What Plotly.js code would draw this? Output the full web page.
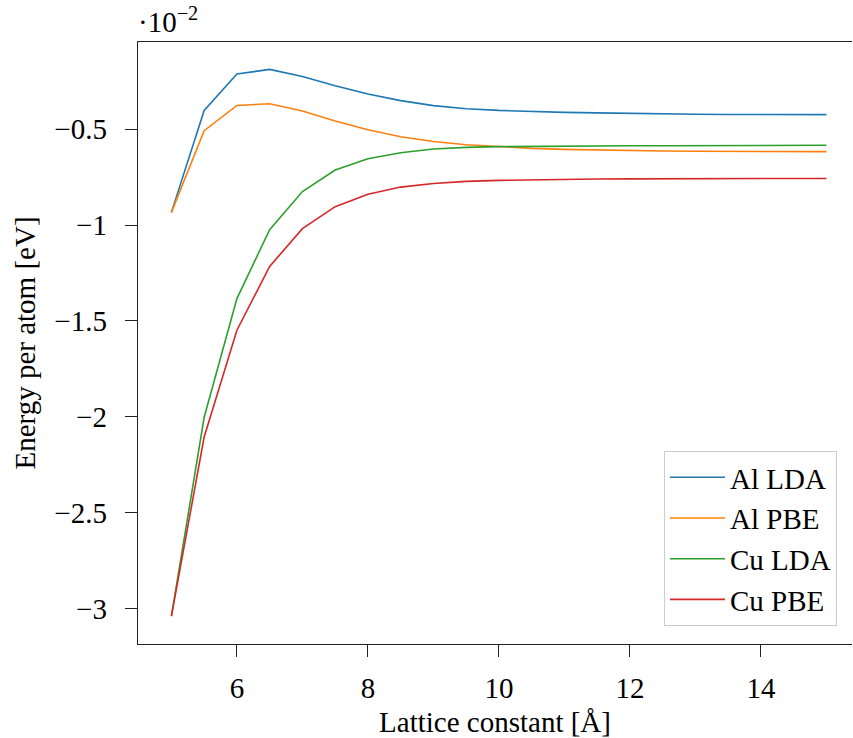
<!DOCTYPE html>
<html>
<head>
<meta charset="utf-8">
<script src="https://cdn.plot.ly/plotly-3.0.1.min.js"></script>
<style>html,body{margin:0;padding:0;background:#fff;overflow:hidden}</style>
</head>
<body>
<div id="chart" style="width:853px;height:738px"></div>
<script>
// Lattice constant [Å]
const latticeConstant = [5, 5.5, 6, 6.5, 7, 7.5, 8, 8.5, 9, 9.5, 10, 10.5, 11, 11.5, 12, 12.5, 13, 13.5, 14, 14.5, 15];
// Energy per atom [eV], in units of 1e-2
const alLDA = [-0.934, -0.402, -0.212, -0.188, -0.225, -0.273, -0.316, -0.351, -0.377, -0.393, -0.402, -0.408, -0.412, -0.415, -0.418, -0.420, -0.422, -0.423, -0.423, -0.424, -0.424];
const alPBE = [-0.934, -0.508, -0.376, -0.367, -0.405, -0.457, -0.503, -0.539, -0.564, -0.581, -0.590, -0.600, -0.605, -0.609, -0.612, -0.614, -0.615, -0.616, -0.616, -0.617, -0.617];
const cuLDA = [-3.041, -2.003, -1.384, -1.024, -0.825, -0.713, -0.654, -0.623, -0.603, -0.595, -0.591, -0.589, -0.588, -0.587, -0.586, -0.586, -0.585, -0.585, -0.585, -0.584, -0.584];
const cuPBE = [-3.041, -2.106, -1.549, -1.216, -1.019, -0.904, -0.839, -0.802, -0.783, -0.772, -0.767, -0.764, -0.762, -0.760, -0.759, -0.758, -0.758, -0.757, -0.757, -0.757, -0.757];
const seriesNames = ['Al LDA', 'Al PBE', 'Cu LDA', 'Cu PBE'];
const seriesColors = ['#1f77b4', '#ff7f0e', '#2ca02c', '#d62728'];
const xTickVals = [6, 8, 10, 12, 14];
const xTickText = ['6', '8', '10', '12', '14'];
const yTickVals = [-0.5, -1, -1.5, -2, -2.5, -3];
const yTickText = ['\u22120.5', '\u22121', '\u22121.5', '\u22122', '\u22122.5', '\u22123'];

const FONT = 'Liberation Serif, Times New Roman, serif';
const seriesData = [alLDA, alPBE, cuLDA, cuPBE];
const traces = seriesData.map((ys, i) => ({
  x: latticeConstant, y: ys, type: 'scatter', mode: 'lines',
  name: seriesNames[i], line: {color: seriesColors[i], width: 1.6}
}));

const layout = {
  width: 853, height: 738,
  margin: {l: 138, r: 1, t: 42, b: 94, pad: 0},
  paper_bgcolor: '#fff', plot_bgcolor: '#fff',
  font: {family: FONT, size: 29, color: '#000'},
  showlegend: true,
  legend: {
    x: 0.979, xanchor: 'right', y: 0.03, yanchor: 'bottom',
    bgcolor: '#fff', bordercolor: '#cccccc', borderwidth: 1,
    font: {family: FONT, size: 29, color: '#000'},
    tracegroupgap: 0, itemwidth: 55
  },
  xaxis: {
    range: [4.49, 15.39], tickmode: 'array', tickvals: xTickVals, ticktext: xTickText,
    showgrid: false, zeroline: false, showline: true, linecolor: '#222', linewidth: 1.3,
    mirror: true, ticks: 'outside', ticklen: 12, tickwidth: 1, tickcolor: '#222',
    ticklabelstandoff: 6,
    title: {text: 'Lattice constant [Å]', font: {family: FONT, size: 29}, standoff: 10}
  },
  yaxis: {
    range: [-3.186, -0.045], tickmode: 'array', tickvals: yTickVals, ticktext: yTickText,
    showgrid: false, zeroline: false, showline: true, linecolor: '#222', linewidth: 1.3,
    mirror: false, ticks: 'outside', ticklen: 12, tickwidth: 1, tickcolor: '#222',
    ticklabelstandoff: 12,
    title: {text: 'Energy per atom [eV]', font: {family: FONT, size: 29}, standoff: 10}
  },
  annotations: [{
    xref: 'paper', yref: 'paper', x: 0, y: 1, xanchor: 'left', yanchor: 'bottom',
    text: '\u00b710<sup>\u22122</sup>', showarrow: false,
    font: {family: FONT, size: 29, color: '#000'}, xshift: -2, yshift: 2
  }]
};

Plotly.newPlot('chart', traces, layout, {staticPlot: true, displayModeBar: false});
</script>
</body>
</html>
